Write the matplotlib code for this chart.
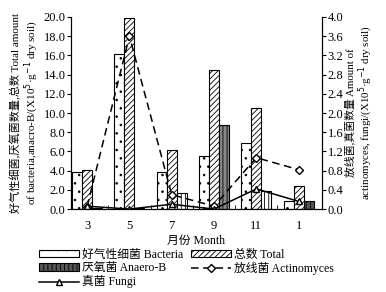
import matplotlib
matplotlib.use("Agg")
import matplotlib.pyplot as plt
import numpy as np

plt.rcParams['font.family'] = ['Liberation Serif', 'Noto Sans CJK SC']
plt.rcParams['hatch.linewidth'] = 0.6

MONTHS = ["3", "5", "7", "9", "11", "1"]
BACTERIA = [3.9, 16.1, 3.9, 5.5, 6.9, 0.8]
TOTAL = [4.1, 19.9, 6.1, 14.5, 10.5, 2.4]
ANAERO = [0.1, 0.1, 1.7, 8.8, 1.9, 0.8]
ACTINO = [0.05, 3.6, 0.3, 0.06, 1.07, 0.82]
FUNGI = [0.06, 0.0, 0.1, 0.0, 0.42, 0.16]

ANAERO_FACE = ["#555555", "#555555", "white", "#888888", "white", "#555555"]

x = np.arange(len(MONTHS))
w = 0.235

fig = plt.figure(figsize=(3.86, 2.92), dpi=100)
ax = fig.add_axes([0.184, 0.284, 0.650, 0.658])

ax.bar(x - w, BACTERIA, w, color="white", edgecolor="black", hatch="..", linewidth=0.8,
       label="好气性细菌 Bacteria")
ax.bar(x, TOTAL, w, color="white", edgecolor="black", hatch="//////", linewidth=0.8,
       label="总数 Total")
ax.bar(x + w, ANAERO, w, color=ANAERO_FACE, edgecolor="black", hatch="||||",
       linewidth=0.8, label="厌氧菌 Anaero-B")

ax.set_xlim(-0.38, 5.55)
ax.set_ylim(0, 20)
ax.set_yticks(np.arange(0, 20.1, 2))
ax.set_yticklabels([f"{v:.1f}" for v in np.arange(0, 20.1, 2)])
ax.set_xticks(x)
ax.set_xticklabels(MONTHS)
ax.tick_params(axis="x", length=0, pad=8, labelsize=9)
ax.tick_params(axis="y", length=3, labelsize=9, pad=1)
ax.set_xticks(x[:-1] + 0.5, minor=True)
ax.tick_params(axis="x", which="minor", length=3, direction="in")
ax.spines["top"].set_visible(False)
ax.set_xlabel("月份 Month", fontsize=8.5, labelpad=2)
ax.set_ylabel("好气性细菌,厌氧菌数量,总数 Total amount\n"
              "of bacteria,anacro-B/(X10$^5$·g$^{-1}$ dry soil)", fontsize=8,
              labelpad=2, linespacing=1.1)

ax2 = ax.twinx()
ax2.plot(x, ACTINO, linestyle=(0, (5, 3)), color="black", marker="D", markersize=4.5,
         markerfacecolor="white", linewidth=1.1, label="放线菌 Actinomyces")
ax2.plot(x, FUNGI, linestyle="-", color="black", marker="^", markersize=5,
         markerfacecolor="white", linewidth=1.1, label="真菌 Fungi")
ax2.set_ylim(0, 4)
ax2.set_yticks(np.arange(0, 4.01, 0.4))
ax2.set_yticklabels([f"{v:.1f}" for v in np.arange(0, 4.01, 0.4)])
ax2.tick_params(axis="y", length=3, labelsize=9, pad=1)
ax2.spines["top"].set_visible(False)
ax2.set_ylabel("放线菌,真菌数量 Amount of\n"
               "actinomyces, fungi/(X10$^5$·g$^{-1}$ dry soil)", fontsize=7.8,
               labelpad=1, linespacing=1.1)

h1, l1 = ax.get_legend_handles_labels()
h2, l2 = ax2.get_legend_handles_labels()
handles = [h1[0], h1[2], h2[1], h1[1], h2[0]]
labels = [l1[0], l1[2], l2[1], l1[1], l2[0]]
fig.legend(handles, labels, ncol=2, loc="upper left", bbox_to_anchor=(0.085, 0.168),
           frameon=False, fontsize=8.5, handlelength=3.4, handleheight=0.6,
           labelspacing=0.1, columnspacing=0.6, handletextpad=0.3, borderpad=0)

fig.savefig("out.png", dpi=100)
